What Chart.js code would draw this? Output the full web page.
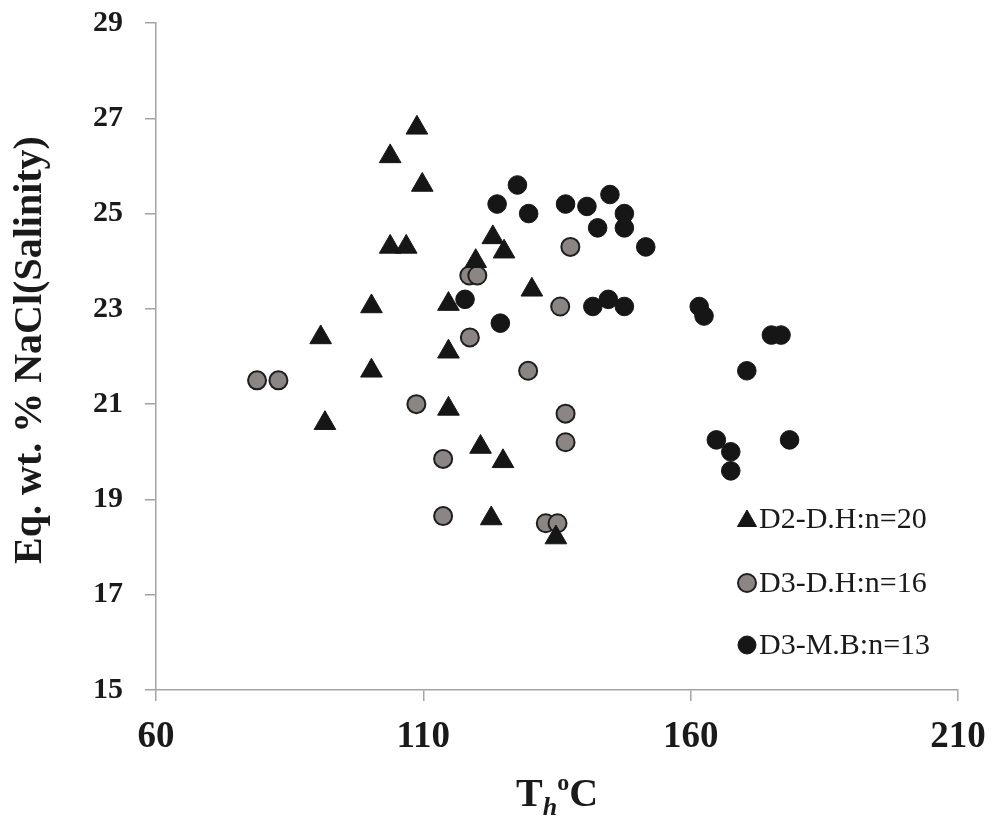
<!DOCTYPE html>
<html>
<head>
<meta charset="utf-8">
<script src="https://cdn.jsdelivr.net/npm/chart.js@4"></script>
<style>
html,body{margin:0;padding:0;background:#fff;}
#wrap{width:992px;height:825px;position:relative;}
</style>
</head>
<body>
<div id="wrap"><canvas id="c" width="992" height="825"></canvas></div>
<script>
// ---- data ----
const xTicks = [60, 110, 160, 210];
const yTicks = [15, 17, 19, 21, 23, 25, 27, 29];
const seriesNames = ["D2-D.H:n=20", "D3-D.H:n=16", "D3-M.B:n=13"];

const d2dhX = [108.8,103.8,109.8,103.8,106.8,123.0,125.1,119.8,130.3,114.7,100.3,90.8,114.7,100.3,91.6,114.7,120.7,124.9,122.7,134.8];
const d2dhY = [26.8,26.2,25.6,24.3,24.3,24.5,24.2,24.0,23.4,23.1,23.05,22.4,22.1,21.7,20.6,20.9,20.1,19.8,18.6,18.2];

const d3dhX = [78.9,82.9,118.7,129.6,108.7,113.7,113.7,132.9,135.1,118.6,120.1,137.5,135.6,136.6,136.6];
const d3dhY = [21.5,21.5,22.4,21.7,21.0,19.85,18.65,18.5,18.5,23.7,23.7,24.3,23.05,20.8,20.2];

const d3mbX = [127.6,123.8,129.7,117.8,124.4,136.6,140.6,144.9,147.6,147.6,142.6,151.6,141.7,144.6,147.6,161.6,162.5,175.1,176.9,170.5,164.8,167.5,167.5,178.5];
const d3mbY = [25.6,25.2,25.0,23.2,22.7,25.2,25.15,25.4,25.0,24.7,24.7,24.3,23.05,23.2,23.05,23.05,22.85,22.45,22.45,21.7,20.25,20.0,19.6,20.25];

const toPts = (xs, ys) => xs.map((x, i) => ({x: x, y: ys[i]}));

const SERIF = "'Liberation Serif', 'Times New Roman', serif";
const AXIS_GREY = '#a3a3a3';

const legendPlugin = {
  id: 'innerLegend',
  afterDraw(chart) {
    const ctx = chart.ctx;
    const rows = [519, 583, 645];
    const mx = 747, tx = 759;
    ctx.save();
    chart.data.datasets.forEach((ds, i) => {
      const r = ds.pointStyle === 'triangle' ? 11 : 9;
      ctx.fillStyle = ds.backgroundColor;
      ctx.strokeStyle = ds.borderColor;
      ctx.lineWidth = ds.borderWidth;
      Chart.helpers.drawPoint(ctx, {pointStyle: ds.pointStyle, radius: r, borderWidth: ds.borderWidth, rotation: 0},
        mx, rows[i] + (ds.pointStyle === 'triangle' ? 2 : 0));
      ctx.fillStyle = '#1a1a1a';
      ctx.font = "30px " + SERIF;
      ctx.textAlign = 'left';
      ctx.textBaseline = 'middle';
      ctx.fillText(seriesNames[i], tx, rows[i] + 1);
    });
    ctx.restore();
  }
};

const titlePlugin = {
  id: 'axisTitles',
  afterDraw(chart) {
    const ctx = chart.ctx;
    ctx.save();
    ctx.fillStyle = '#1a1a1a';
    // y title
    ctx.translate(31, 350);
    ctx.rotate(-Math.PI / 2);
    ctx.font = "bold 40px " + SERIF;
    ctx.textAlign = 'center';
    ctx.textBaseline = 'middle';
    ctx.fillText('Eq. wt. % NaCl(Salinity)', 0, 0);
    ctx.restore();

    // x title: T_h °C
    ctx.save();
    ctx.fillStyle = '#1a1a1a';
    ctx.textBaseline = 'alphabetic';
    ctx.textAlign = 'left';
    const base = 806;
    const fMain = "bold 40px " + SERIF;
    const fSub = "italic bold 26px " + SERIF;
    const fSup = "bold 24px " + SERIF;
    ctx.font = fMain; const wT = ctx.measureText('T').width; const wC = ctx.measureText('C').width;
    ctx.font = fSub; const wh = ctx.measureText('h').width;
    ctx.font = fSup; const wo = ctx.measureText('o').width;
    const total = wT + wh + wo + wC;
    let x = 557 - total / 2;
    ctx.font = fMain; ctx.fillText('T', x, base); x += wT;
    ctx.font = fSub; ctx.fillText('h', x, base + 9); x += wh;
    ctx.font = fSup; ctx.fillText('o', x, base - 16); x += wo;
    ctx.font = fMain; ctx.fillText('C', x, base);
    ctx.restore();
  }
};

new Chart(document.getElementById('c'), {
  type: 'scatter',
  data: {
    datasets: [
      {label: seriesNames[0], data: toPts(d2dhX, d2dhY), pointStyle: 'triangle', pointRadius: 12.5, pointHoverRadius: 12.5,
       backgroundColor: '#161616', borderColor: '#161616', borderWidth: 1},
      {label: seriesNames[1], data: toPts(d3dhX, d3dhY), pointStyle: 'circle', pointRadius: 9, pointHoverRadius: 9,
       backgroundColor: '#8b8584', borderColor: '#1e1e1e', borderWidth: 2},
      {label: seriesNames[2], data: toPts(d3mbX, d3mbY), pointStyle: 'circle', pointRadius: 9.3, pointHoverRadius: 9.3,
       backgroundColor: '#161616', borderColor: '#161616', borderWidth: 1}
    ]
  },
  options: {
    responsive: false,
    animation: false,
    events: [],
    layout: {padding: {left: 0, top: 23, right: 34, bottom: 0}},
    plugins: {legend: {display: false}, tooltip: {enabled: false}},
    scales: {
      x: {
        type: 'linear', min: 60, max: 210,
        afterBuildTicks: s => { s.ticks = xTicks.map(v => ({value: v})); },
        afterFit: s => { s.height = 135; s.paddingLeft = 0; s.paddingRight = 0; },
        grid: {drawOnChartArea: false, drawTicks: true, tickLength: 11, color: AXIS_GREY, lineWidth: 1.5},
        border: {display: true, color: AXIS_GREY, width: 1.5},
        ticks: {font: {family: SERIF, size: 37, weight: 'bold'}, color: '#1a1a1a', padding: 14, maxRotation: 0}
      },
      y: {
        type: 'linear', min: 15, max: 29,
        afterBuildTicks: s => { s.ticks = yTicks.map(v => ({value: v})); },
        afterFit: s => { s.width = 156; s.paddingTop = 0; s.paddingBottom = 0; },
        grid: {drawOnChartArea: false, drawTicks: true, tickLength: 11, color: AXIS_GREY, lineWidth: 1.5},
        border: {display: true, color: AXIS_GREY, width: 1.5},
        ticks: {font: {family: SERIF, size: 30, weight: 'bold'}, color: '#1a1a1a', padding: 22}
      }
    }
  },
  plugins: [legendPlugin, titlePlugin]
});
</script>
</body>
</html>
